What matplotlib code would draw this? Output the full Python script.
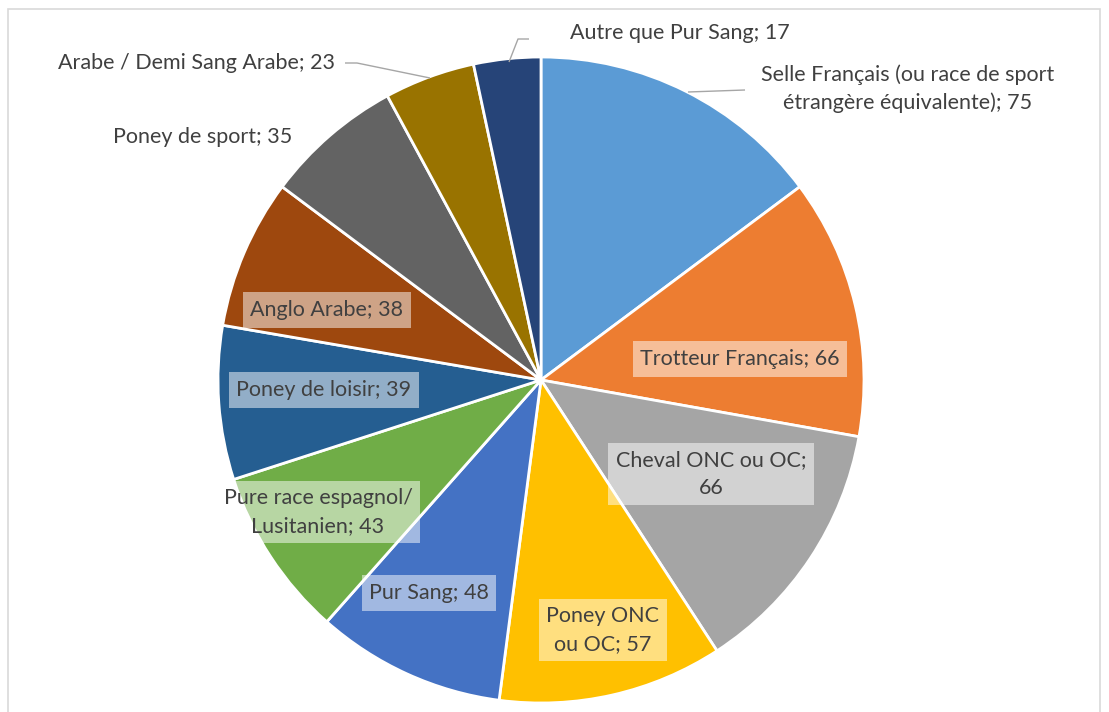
import matplotlib
matplotlib.use("Agg")
import matplotlib.pyplot as plt
from matplotlib.patches import Rectangle

categories = [
    "Selle Français (ou race de sport\nétrangère équivalente)",
    "Trotteur Français",
    "Cheval ONC ou OC",
    "Poney ONC\nou OC",
    "Pur Sang",
    "Pure race espagnol/\nLusitanien",
    "Poney de loisir",
    "Anglo Arabe",
    "Poney de sport",
    "Arabe / Demi Sang Arabe",
    "Autre que Pur Sang",
]
values = [75, 66, 66, 57, 48, 43, 39, 38, 35, 23, 17]
colors = ["#5B9BD5", "#ED7D31", "#A5A5A5", "#FFC000", "#4472C4", "#70AD47",
          "#255E91", "#9E480E", "#636363", "#997300", "#264478"]

W, H = 1109, 712
fig = plt.figure(figsize=(W / 100, H / 100), dpi=100)
ax = fig.add_axes([0, 0, 1, 1])

cx, cy, r = 541, H - 380, 323
ax.pie(values, colors=colors, startangle=90, counterclock=False,
       center=(cx, cy), radius=r, frame=True,
       wedgeprops=dict(edgecolor="white", linewidth=2.0))
ax.set_xlim(0, W)
ax.set_ylim(0, H)
ax.set_aspect("equal")
ax.axis("off")

# frame border
fig.patches.append(Rectangle((8 / W, -0.01), (1100 - 8) / W, (H - 9) / H + 0.01,
                             transform=fig.transFigure, fill=False,
                             edgecolor="#D9D9D9", linewidth=1.2))

font = ["Lato", "DejaVu Sans"]
tc = "#404040"
fs = 15.5
ls = 1.45

def put(txt, x, y, boxed=True, ha="center"):
    kw = dict(ha=ha, va="center", fontsize=fs, color=tc, family=font,
              linespacing=ls, multialignment="center")
    if boxed:
        kw["bbox"] = dict(boxstyle="square,pad=0.35", facecolor="white",
                          edgecolor="none", alpha=0.5)
    ax.text(x, H - y, txt, **kw)

def label(i, x, y, boxed=True, ha="center"):
    put(f"{categories[i]}; {values[i]}", x, y, boxed, ha)

# inside labels (pixel positions)
label(1, 740, 359)
put(f"{categories[2]};\n{values[2]}", 711, 474)
label(3, 603, 630)
label(4, 429, 593)
label(5, 318, 512)
label(6, 324, 390)
label(7, 327, 310)

# outside labels
label(0, 908, 89, boxed=False)
label(8, 203, 137, boxed=False)
label(9, 335, 63, boxed=False, ha="right")
label(10, 570, 33, boxed=False, ha="left")

lc = "#A6A6A6"
def leader(pts):
    xs = [p[0] for p in pts]
    ys = [H - p[1] for p in pts]
    ax.plot(xs, ys, color=lc, linewidth=1.0, solid_capstyle="butt")

leader([(688, 92), (745, 90)])
leader([(345, 63), (357, 63), (430, 78)])
leader([(509, 62), (518, 39), (529, 39)])

fig.savefig("out.png", dpi=100)
